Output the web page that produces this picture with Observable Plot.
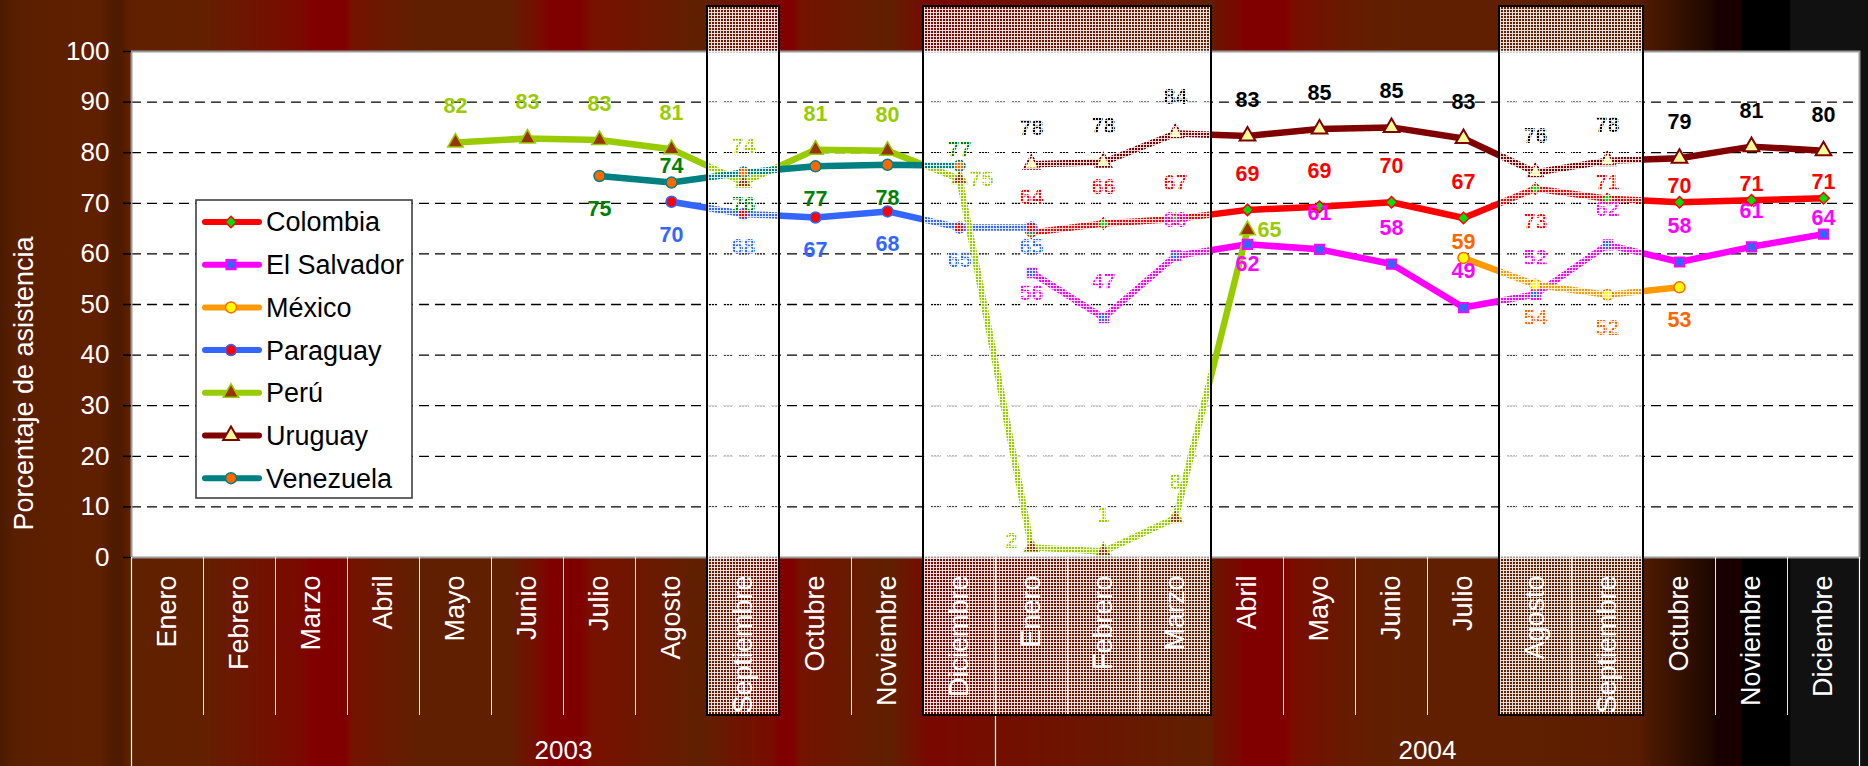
<!DOCTYPE html>
<html>
<head>
<meta charset="utf-8">
<script src="https://cdn.jsdelivr.net/npm/d3@7"></script>
<script src="https://cdn.jsdelivr.net/npm/@observablehq/plot@0.6"></script>
<style>
html, body { margin: 0; padding: 0; background: #111; }
#chart {
  position: relative; width: 1868px; height: 766px; overflow: hidden;
  background: linear-gradient(to right,
    #4a1a00 0px, #5a1e00 14px, #602000 100px, #4f1b00 112px, #4f1b00 122px, #602000 130px,
    #622000 200px, #7c0800 305px, #800000 312px, #800000 345px, #741200 352px, #602000 420px,
    #602000 510px, #7c0800 545px, #800000 550px, #800000 580px, #781000 590px, #602000 700px,
    #7a0a00 774px, #800000 779px, #800000 792px, #741200 800px, #602000 890px, #7a0800 930px,
    #602000 1211px, #6a1400 1215px, #7c0600 1240px, #800000 1246px, #800000 1285px, #7a0c00 1292px,
    #651c00 1351px, #602000 1400px, #602000 1500px, #5a1c00 1640px, #4a1800 1650px, #1e0800 1712px,
    #180000 1716px, #180000 1741px, #000000 1743px, #000000 1789px, #111111 1791px, #111111 1868px);
}
#chart svg { position: absolute; left: 0; top: 0; }
</style>
</head>
<body>
<svg width="0" height="0" style="position:absolute">
  <defs>
    <pattern id="hatch" width="3" height="3" patternUnits="userSpaceOnUse">
      <rect x="0" y="0" width="3" height="1" fill="#ffffff"></rect>
      <rect x="0" y="1" width="1" height="2" fill="#ffffff"></rect>
    </pattern>
  </defs>
</svg>
<div id="chart"></div>
<script>
// ---------------- DATA ----------------
const monthNames = ["Enero","Febrero","Marzo","Abril","Mayo","Junio","Julio","Agosto","Septiembre","Octubre","Noviembre","Diciembre"];
const years = ["2003", "2004"];
const months = [...monthNames, ...monthNames]; // Enero 2003 ... Diciembre 2004
const seriesNames = ["Colombia","El Salvador","México","Paraguay","Perú","Uruguay","Venezuela"];
const _ = null;
const colombia   = [_,_,_,_,_,_,_,_,_,_,_,_, 64.2,66.0,66.9,68.7,69.3,70.2,67.1,72.9,70.9,70.2,70.6,71.0];
const elSalvador = [_,_,_,_,_,_,_,_,_,_,_,_, 56.3,47.4,59.6,61.9,60.9,58.0,49.4,52.0,61.8,58.4,61.4,63.9];
const mexico     = [_,_,_,_,_,_,_,_,_,_,_,_, _,_,_,_,_,_, 59.2,53.9,51.9,53.4,_,_];
const paraguay   = [_,_,_,_,_,_,_, 70.3,67.9,67.2,68.4,65.2, 65.2,_,_,_,_,_,_,_,_,_,_,_];
const peru       = [_,_,_,_, 82.0,82.8,82.5,80.7,74.1,80.6,80.4,74.8, 2.0,1.2,7.8,64.7,_,_,_,_,_,_,_,_];
const uruguay    = [_,_,_,_,_,_,_,_,_,_,_,_, 77.7,78.1,83.8,83.3,84.7,85.0,82.8,76.1,78.4,78.9,81.2,80.4];
const venezuela  = [_,_,_,_,_,_, 75.4,74.1,76.1,77.3,77.6,77.4, _,_,_,_,_,_,_,_,_,_,_,_];
const seriesValues = [colombia, elSalvador, mexico, paraguay, peru, uruguay, venezuela];
// shaded periods (inclusive month indices)
const shadedPeriods = [[8, 8], [11, 14], [19, 20]];
const yTicks = [0,10,20,30,40,50,60,70,80,90,100];

// ---------------- STYLE / LAYOUT ----------------
const styles = {
  "Colombia":    {line: "#ff0000", symbol: "diamond2", r: 5.2, fill: "#00e000", stroke: "#ff0000", sw: 1.5, label: "#ff0000"},
  "El Salvador": {line: "#ff00ff", symbol: "square",   r: 5.2, fill: "#3366ff", stroke: "#ff00ff", sw: 2,   label: "#ff00ff"},
  "México":      {line: "#ff9900", symbol: "circle",   r: 5.5, fill: "#ffff00", stroke: "#ff6600", sw: 1.5, label: "#ff6600"},
  "Paraguay":    {line: "#3366ff", symbol: "circle",   r: 5.5, fill: "#ff0000", stroke: "#3366ff", sw: 1.5, label: "#3366ff"},
  "Perú":        {line: "#99cc00", symbol: "triangle", r: 5.8, fill: "#993300", stroke: "#99cc00", sw: 1.5, label: "#99cc00"},
  "Uruguay":     {line: "#800000", symbol: "triangle", r: 5.8, fill: "#ffff99", stroke: "#800000", sw: 2,   label: "#000000"},
  "Venezuela":   {line: "#008080", symbol: "circle",   r: 5.5, fill: "#ff6600", stroke: "#008080", sw: 1.5, label: "#008000"}
};
// label placement per month: t=above, n=near above, b=below, c=near below, r=right, l=left
const placement = {
  "Colombia":    "............tttttttbnnnn",
  "El Salvador": "............cttctttttttn",
  "México":      "..................nbbb..",
  "Paraguay":    ".......bbbbbc...........",
  "Perú":        "....tttttttrlttr........",
  "Uruguay":     "............tttttttttttt",
  "Venezuela":   "......bnbbbn............"
};
const offsets = {t: [0, -36], n: [0, -16], b: [0, 33], c: [0, 20], r: [22, 0], l: [-20, -6]};

const W = 1868, H = 766, mL = 131, mR = 9, mT = 51, mB = 209;
const pxPerUnit = (H - mB - mT) / 100;
const toV = py => (H - mB - py) / pxPerUnit; // pixel y -> data units (for decorations beyond frame)
const FONT = "'Liberation Sans', Arial, Helvetica, sans-serif";

const rows = [];
seriesNames.forEach((s, k) => {
  seriesValues[k].forEach((v, i) => {
    if (v != null) rows.push({s, i, x: i + 0.5, v, p: placement[s][i]});
  });
});

const marks = [];
marks.push(Plot.frame({fill: "white"}));
marks.push(Plot.gridY(yTicks.filter(t => t > 0 && t < 100), {stroke: "#000", strokeOpacity: 1, strokeWidth: 1.3, strokeDasharray: "10,6"}));
for (const s of seriesNames) {
  const st = styles[s];
  const d = rows.filter(r => r.s === s);
  marks.push(Plot.line(d, {x: "x", y: "v", stroke: st.line, strokeWidth: 6.5, strokeLinejoin: "round", strokeLinecap: "round"}));
}
for (const s of seriesNames) {
  const st = styles[s];
  const d = rows.filter(r => r.s === s);
  marks.push(Plot.dot(d, {x: "x", y: "v", symbol: st.symbol, r: st.r, fill: st.fill, stroke: st.stroke, strokeWidth: st.sw}));
}
for (const s of seriesNames) {
  const st = styles[s];
  for (const [code, [dx, dy]] of Object.entries(offsets)) {
    const d = rows.filter(r => r.s === s && r.p === code);
    if (!d.length) continue;
    marks.push(Plot.text(d, {x: "x", y: "v", text: r => String(Math.round(r.v)), dx, dy,
      fill: st.label, fontSize: 21.5, fontWeight: "bold"}));
  }
}
marks.push(Plot.frame({stroke: "#9a9a9a", strokeWidth: 2}));
// category area separators
const monthBounds = d3.range(1, 24).filter(i => i !== 12);
marks.push(Plot.ruleX(monthBounds, {x: d => d, y1: 0, y2: toV(715), stroke: "#ffffff", strokeWidth: 1, strokeOpacity: 0.9}));
marks.push(Plot.ruleX([0, 12, 24], {x: d => d, y1: 0, y2: toV(H), stroke: "#ffffff", strokeWidth: 1.2}));
// month labels
marks.push(Plot.text(months, {x: (d, i) => i + 0.5, y: () => 0, text: d => d, rotate: -90, textAnchor: "end", dy: 18,
  fill: "#ffffff", fontSize: 27}));
// year labels
marks.push(Plot.text(years, {x: (d, i) => 6 + 12 * i, y: () => 0, text: d => d, dy: 193, fill: "#ffffff", fontSize: 26}));
// shaded (hatched) periods
marks.push(Plot.rect(shadedPeriods, {x1: d => d[0], x2: d => d[1] + 1, y1: () => toV(715), y2: () => toV(6),
  fill: "url(#hatch)", fillOpacity: 0.85}));
marks.push(Plot.rect(shadedPeriods, {x1: d => d[0], x2: d => d[1] + 1, y1: () => toV(715), y2: () => toV(6),
  fill: "none", stroke: "#000", strokeWidth: 2}));
// y axis
marks.push(Plot.axisY({ticks: yTicks, tickSize: 8, tickPadding: 14, stroke: "#000", strokeWidth: 1.5, fill: "#ffffff",
  fontSize: 26, label: null, tickFormat: d => String(d)}));
marks.push(Plot.text(["Porcentaje de asistencia"], {x: () => 0, y: () => toV(383), text: d => d, dx: -107, rotate: -90,
  fill: "#ffffff", fontSize: 27}));

const svg = Plot.plot({
  width: W, height: H,
  marginLeft: mL, marginRight: mR, marginTop: mT, marginBottom: mB,
  x: {type: "linear", domain: [0, 24], axis: null},
  y: {type: "linear", domain: [0, 100], axis: null},
  style: {background: "transparent", fontFamily: FONT, overflow: "visible"},
  marks
});
document.getElementById("chart").appendChild(svg);

// ---------------- LEGEND ----------------
const lg = d3.select(svg).append("g").attr("font-family", FONT).attr("text-anchor", "start");
lg.append("rect").attr("x", 196).attr("y", 200).attr("width", 216).attr("height", 298)
  .attr("fill", "#ffffff").attr("stroke", "#333").attr("stroke-width", 1.5);
const symbolMap = {diamond2: d3.symbolDiamond2, square: d3.symbolSquare, circle: d3.symbolCircle, triangle: d3.symbolTriangle};
seriesNames.forEach((s, k) => {
  const st = styles[s];
  const cy = 222 + k * 42.7;
  lg.append("line").attr("x1", 205).attr("x2", 259).attr("y1", cy).attr("y2", cy)
    .attr("stroke", st.line).attr("stroke-width", 6).attr("stroke-linecap", "round");
  lg.append("path").attr("d", d3.symbol(symbolMap[st.symbol], Math.PI * st.r * st.r)())
    .attr("transform", `translate(231,${cy})`).attr("fill", st.fill).attr("stroke", st.stroke).attr("stroke-width", st.sw);
  lg.append("text").attr("x", 266).attr("y", cy).attr("dy", "0.35em").attr("font-size", 27)
    .attr("text-anchor", "start").attr("fill", "#000").text(s);
});
</script>
</body>
</html>
